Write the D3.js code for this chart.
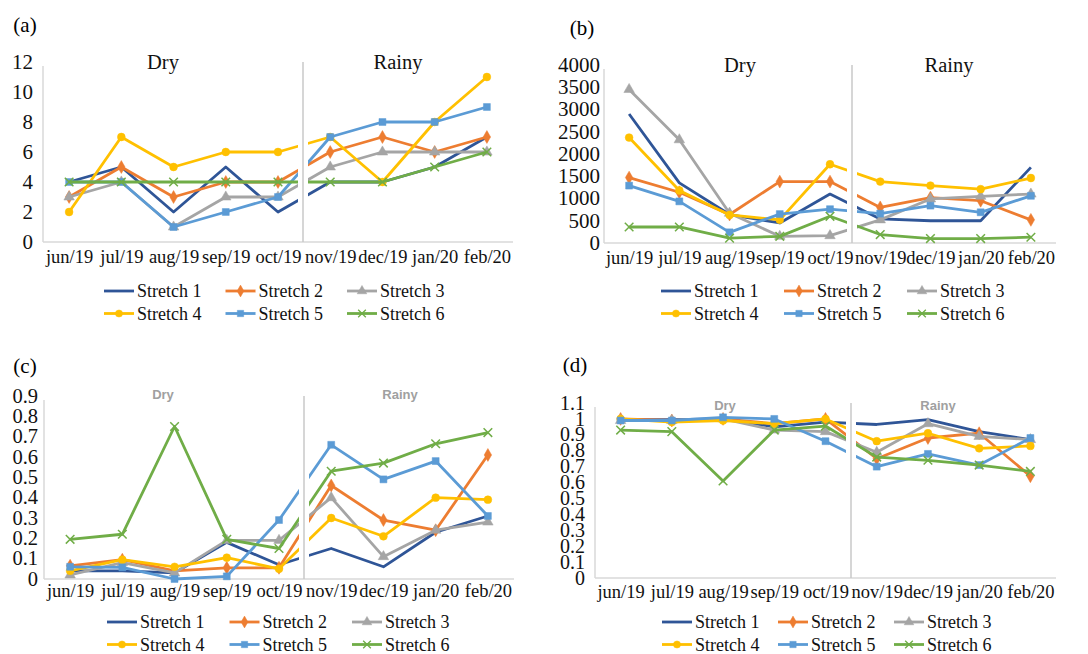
<!DOCTYPE html>
<html>
<head>
<meta charset="utf-8">
<script src="https://cdn.jsdelivr.net/npm/d3@7"></script>
<style>
  body { margin: 0; background: #fff; }
  svg { display: block; }
</style>
</head>
<body>
<svg id="chart"></svg>
<script>
const months = ["jun/19", "jul/19", "aug/19", "sep/19", "oct/19", "nov/19", "dec/19", "jan/20", "feb/20"];
const stretches = ["Stretch 1", "Stretch 2", "Stretch 3", "Stretch 4", "Stretch 5", "Stretch 6"];

// one row per stretch, values per month
const dataA = [
  [4, 5, 2, 5, 2, 4, 4, 5, 7],
  [3, 5, 3, 4, 4, 6, 7, 6, 7],
  [3, 4, 1, 3, 3, 5, 6, 6, 6],
  [2, 7, 5, 6, 6, 7, 4, 8, 11],
  [4, 4, 1, 2, 3, 7, 8, 8, 9],
  [4, 4, 4, 4, 4, 4, 4, 5, 6]
];
const dataB = [
  [2900, 1350, 640, 450, 1100, 540, 500, 500, 1700],
  [1470, 1140, 640, 1380, 1380, 800, 1020, 950, 520],
  [3450, 2320, 670, 150, 165, 520, 990, 1050, 1100],
  [2370, 1180, 630, 520, 1770, 1380, 1290, 1210, 1460],
  [1290, 935, 240, 650, 760, 660, 840, 690, 1060],
  [360, 360, 110, 150, 600, 190, 100, 100, 130]
];
const dataC = [
  [0.04, 0.04, 0.03, 0.18, 0.07, 0.15, 0.06, 0.23, 0.31],
  [0.065, 0.095, 0.04, 0.055, 0.055, 0.46, 0.29, 0.24, 0.61],
  [0.02, 0.08, 0.03, 0.19, 0.19, 0.40, 0.11, 0.24, 0.28],
  [0.04, 0.095, 0.06, 0.105, 0.05, 0.30, 0.21, 0.40, 0.39],
  [0.06, 0.057, 0.0, 0.013, 0.29, 0.66, 0.49, 0.58, 0.31],
  [0.195, 0.22, 0.75, 0.195, 0.15, 0.53, 0.57, 0.665, 0.72]
];
const dataD = [
  [0.995, 0.995, 1.0, 0.95, 0.98, 0.965, 0.995, 0.92, 0.87],
  [1.0, 0.99, 1.0, 0.97, 1.0, 0.75, 0.88, 0.91, 0.64],
  [0.99, 0.99, 1.0, 0.93, 0.92, 0.79, 0.97, 0.89, 0.87],
  [1.0, 0.98, 0.99, 0.97, 1.0, 0.86, 0.91, 0.815, 0.83],
  [0.99, 0.99, 1.01, 1.0, 0.86, 0.70, 0.78, 0.71, 0.88],
  [0.93, 0.92, 0.61, 0.93, 0.955, 0.76, 0.74, 0.71, 0.67]
];

const ticksA = d3.range(0, 13, 2);
const ticksB = d3.range(0, 4001, 500);
const ticksC = d3.range(0, 10).map(d => d / 10);
const ticksD = d3.range(0, 12).map(d => d / 10);

const colors = ["#2f5597", "#ed7d31", "#a5a5a5", "#ffc000", "#5b9bd5", "#70ad47"];
const symbols = [null, d3.symbolDiamond, d3.symbolTriangle, d3.symbolCircle, d3.symbolSquare, d3.symbolTimes];

const width = 1088, height = 654;
const SERIF = '"Liberation Serif"';
const SANS = '"Liberation Sans"';

const svg = d3.select("#chart").attr("width", width).attr("height", height);
svg.append("rect").attr("width", width).attr("height", height).attr("fill", "#fff");

const panels = [
  { tag: "(a)", tagX: 25, tagY: 25, data: dataA, ticks: ticksA, max: 12, x0: 43, x1: 513, y0: 242, y1: 62,
    labelRight: 33, tickSize: 21, sep: 303, sansSeason: false, dryX: 163, rainyX: 398, seasonY: 62, xLabY: 257,
    legX: 104, legY: 291, legCol: 121.5 },
  { tag: "(b)", tagX: 582, tagY: 28, data: dataB, ticks: ticksB, max: 4000, x0: 604, x1: 1056, y0: 243, y1: 65,
    labelRight: 600, tickSize: 21, sep: 852, sansSeason: false, dryX: 740, rainyX: 949, seasonY: 65, xLabY: 258,
    legX: 661, legY: 291, legCol: 123 },
  { tag: "(c)", tagX: 25, tagY: 366, data: dataC, ticks: ticksC, max: 0.9, x0: 44, x1: 514, y0: 579, y1: 396,
    labelRight: 38, tickSize: 20.5, sep: 304, sansSeason: true, dryX: 163, rainyX: 400, seasonY: 394, xLabY: 591,
    legX: 107, legY: 622, legCol: 122.5 },
  { tag: "(d)", tagX: 575, tagY: 365, data: dataD, ticks: ticksD, max: 1.1, x0: 595, x1: 1056, y0: 578, y1: 403,
    labelRight: 585, tickSize: 20, sep: 851, sansSeason: true, dryX: 725, rainyX: 938, seasonY: 405, xLabY: 592,
    legX: 662, legY: 622, legCol: 116 }
];

const fmt = v => v === 0 ? "0" : String(+v.toFixed(1));

panels.forEach(p => {
  const g = svg.append("g");

  const x = d3.scalePoint().domain(months).range([p.x0, p.x1]).padding(0.5);
  const y = d3.scaleLinear().domain([0, p.max]).range([p.y0, p.y1]);

  // panel tag
  g.append("text").attr("x", p.tagX).attr("y", p.tagY).attr("dy", "0.35em")
    .attr("text-anchor", "middle")
    .style("font-family", SERIF).style("font-size", "21px")
    .text(p.tag);

  // left axis line
  g.append("line").attr("x1", p.x0).attr("x2", p.x0).attr("y1", p.y1 + 4).attr("y2", p.y0)
    .attr("stroke", "#d9d9d9").attr("stroke-width", 1.5);

  // y tick labels
  g.selectAll(".ytick").data(p.ticks).join("text")
    .attr("class", "ytick")
    .attr("x", p.labelRight).attr("y", d => y(d)).attr("dy", "0.33em")
    .attr("text-anchor", "end")
    .style("font-family", SERIF).style("font-size", p.tickSize + "px")
    .attr("fill", "#111").text(fmt);

  // x axis
  const xAxis = g.append("g").attr("transform", `translate(0,${p.y0})`)
    .call(d3.axisBottom(x).tickSize(0).tickPadding(0));
  xAxis.select(".domain").attr("stroke", "#d9d9d9").attr("stroke-width", 1.5)
    .attr("d", `M${p.x0},0H${p.x1}`);
  xAxis.selectAll("text").attr("y", p.xLabY - p.y0).attr("dy", "0.35em")
    .style("font-family", SERIF).style("font-size", "18.5px").attr("fill", "#111");

  // series lines
  const line = d3.line().x((d, i) => x(months[i])).y(d => y(d));
  p.data.forEach((vals, si) => {
    g.append("path").datum(vals).attr("d", line)
      .attr("fill", "none").attr("stroke", colors[si]).attr("stroke-width", 2.8)
      .attr("stroke-linejoin", "round");
    if (symbols[si]) {
      const isX = symbols[si] === d3.symbolTimes;
      const sym = d3.symbol().type(symbols[si]).size(isX ? 50 : 48);
      g.selectAll(null).data(vals).join("path")
        .attr("transform", (d, i) => `translate(${x(months[i])},${y(d)})`)
        .attr("d", sym)
        .attr("fill", isX ? "none" : colors[si])
        .attr("stroke", colors[si]).attr("stroke-width", isX ? 1.5 : 0.5);
    }
  });

  // season divider with a white gap around it
  g.append("rect").attr("x", p.sep - 5).attr("y", p.y1 - 2).attr("width", 10).attr("height", p.y0 - p.y1 - 1)
    .attr("fill", "#fff");
  g.append("line").attr("x1", p.sep).attr("x2", p.sep).attr("y1", p.y1).attr("y2", p.y0)
    .attr("stroke", "#c8c8c8").attr("stroke-width", 1.5);

  // season labels
  const season = (txt, sx) => {
    const t = g.append("text").attr("x", sx).attr("y", p.seasonY).attr("dy", "0.35em")
      .attr("text-anchor", "middle").text(txt);
    if (p.sansSeason) {
      t.style("font-family", SANS).style("font-weight", "bold")
        .style("font-size", "13px").attr("fill", "#a0a0a0");
    } else {
      t.style("font-family", SERIF).style("font-size", "20.5px").attr("fill", "#111");
    }
  };
  season("Dry", p.dryX);
  season("Rainy", p.rainyX);

  // legend
  stretches.forEach((name, si) => {
    const col = si % 3, row = Math.floor(si / 3);
    const lx = p.legX + col * p.legCol, ly = p.legY + row * 22.5;
    const lg = g.append("g");
    lg.append("line").attr("x1", lx).attr("x2", lx + 30).attr("y1", ly).attr("y2", ly)
      .attr("stroke", colors[si]).attr("stroke-width", 2.8);
    if (symbols[si]) {
      const isX = symbols[si] === d3.symbolTimes;
      lg.append("path").attr("transform", `translate(${lx + 15},${ly})`)
        .attr("d", d3.symbol().type(symbols[si]).size(40))
        .attr("fill", isX ? "none" : colors[si])
        .attr("stroke", colors[si]).attr("stroke-width", isX ? 1.3 : 0.5);
    }
    lg.append("text").attr("x", lx + 33).attr("y", ly).attr("dy", "0.35em")
      .style("font-family", SERIF).style("font-size", "18px").attr("fill", "#111").text(name);
  });
});
</script>
</body>
</html>
